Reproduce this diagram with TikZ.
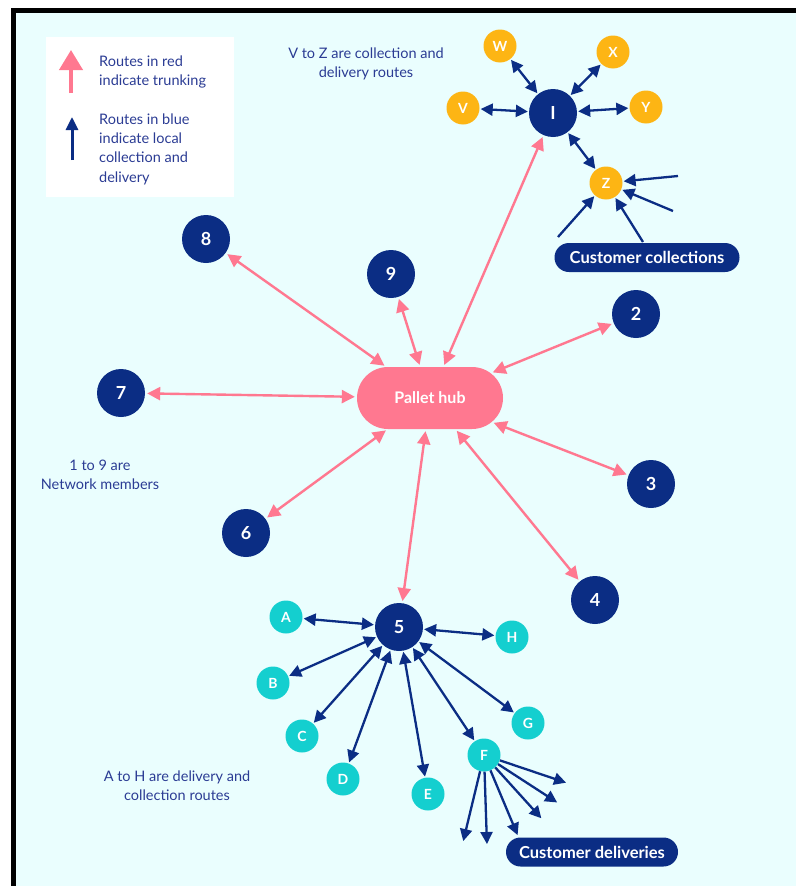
\documentclass[tikz,border=0pt]{standalone}
\usepackage{fontspec}
\setmainfont{Lato}
\usetikzlibrary{arrows.meta,shapes.misc}
\definecolor{bg}{HTML}{EAFEFE}
\definecolor{navy}{HTML}{0B2D84}
\definecolor{txt}{HTML}{2B3C94}
\definecolor{pinkr}{HTML}{FF7890}
\definecolor{tealc}{HTML}{14CFCF}
\definecolor{amber}{HTML}{FDB514}
\tikzset{
  member/.style={circle, fill=navy, minimum size=48pt, inner sep=0pt, text=white, font=\bfseries\fontsize{18}{18}\selectfont},
  routenode/.style={circle, fill=tealc, minimum size=33pt, inner sep=0pt, text=white, font=\bfseries\fontsize{14}{14}\selectfont},
  vznode/.style={circle, fill=amber, minimum size=33pt, inner sep=0pt, text=white, font=\bfseries\fontsize{14}{14}\selectfont},
  hubnode/.style={rounded rectangle, fill=pinkr, minimum width=146pt, minimum height=62pt, inner sep=0pt, text=white, font=\bfseries\fontsize{16}{16}\selectfont},
  custbox/.style={rounded rectangle, fill=navy, minimum height=29pt, inner sep=0pt, text=white, font=\bfseries\fontsize{16.5}{16.5}\selectfont},
  note/.style={text=txt, font=\fontsize{14.5}{19}\selectfont, align=center, inner sep=0pt},
  legtext/.style={text=txt, font=\fontsize{14.5}{19.3}\selectfont, align=left, inner sep=0pt, anchor=west},
  trunk/.style={draw=pinkr, line width=2.4pt, {Triangle[width=13pt,length=13pt]}-{Triangle[width=13pt,length=13pt]}, shorten >=2pt, shorten <=2pt},
  local/.style={draw=navy, line width=2.3pt, {Triangle[width=12pt,length=12pt]}-{Triangle[width=12pt,length=12pt]}, shorten >=1pt, shorten <=1pt},
  inward/.style={draw=navy, line width=2.3pt, -{Triangle[width=12pt,length=12pt]}, shorten >=1pt}
}
\begin{document}
\begin{tikzpicture}[x=1pt,y=-1pt]
\useasboundingbox (0,0) rectangle (796,886);
\fill[white] (0,0) rectangle (796,886);
\fill[black] (11,8) rectangle (796,886);
\fill[bg] (16,13) rectangle (796,886);

% legend
\fill[white] (46,37) rectangle (234,197);
\coordinate (lr1) at (71,93);
\coordinate (lr2) at (71,50);
\coordinate (lb1) at (72,160);
\coordinate (lb2) at (72,117);
\draw[pinkr, line width=4pt, -{Triangle[width=23pt,length=20pt]}] (lr1) -- (lr2);
\draw[navy, line width=3pt, -{Triangle[width=12pt,length=13pt]}] (lb1) -- (lb2);
\node[legtext] (lt1) at (99,72) {Routes in red\\indicate trunking};
\node[legtext] (lt2) at (99,149) {Routes in blue\\indicate local\\collection and\\delivery};

% notes
\node[note] (nvz) at (366,63.5) {V to Z are collection and\\delivery routes};
\node[note] (n19) at (100,475) {1 to 9 are\\Network members};
\node[note] (nah) at (177,786) {A to H are delivery and\\collection routes};

% hub and members
\node[hubnode] (hub) at (430,398) {Pallet hub};
\node[member] (m1) at (553,113) {I};
\node[member] (m2) at (636,314) {2};
\node[member] (m3) at (651,484) {3};
\node[member] (m4) at (595,600) {4};
\node[member] (m5) at (399,627) {5};
\node[member] (m6) at (246,533) {6};
\node[member] (m7) at (121,393) {7};
\node[member] (m8) at (206,239) {8};
\node[member] (m9) at (391,274) {9};

% V to Z
\node[vznode] (v) at (463,108) {V};
\node[vznode] (w) at (500,46) {W};
\node[vznode] (x) at (613,52) {X};
\node[vznode] (y) at (646,107) {Y};
\node[vznode] (z) at (606,183) {Z};

% A to H
\node[routenode] (a) at (286,617) {A};
\node[routenode] (b) at (273,683) {B};
\node[routenode] (c) at (302,736) {C};
\node[routenode] (d) at (343,779) {D};
\node[routenode] (e) at (428,794) {E};
\node[routenode] (f) at (484,755) {F};
\node[routenode] (g) at (528,723) {G};
\node[routenode] (h) at (512,637) {H};

% customer boxes
\node[custbox, minimum width=185pt] (cc) at (647,257.5) {Customer collections};
\node[custbox, minimum width=172pt] (cd) at (592,852) {Customer deliveries};

% trunking
\foreach \m in {m1,m2,m3,m4,m5,m6,m7,m8,m9} {\draw[trunk] (hub) -- (\m);}

% local V-Z
\foreach \n in {v,w,x,y,z} {\draw[local] (m1) -- (\n);}

% local A-H
\foreach \n in {a,b,c,d,e,f,g,h} {\draw[local] (m5) -- (\n);}

% customer collections into Z
\coordinate (zc1) at (678,176);
\coordinate (zc2) at (673,211);
\coordinate (zc3) at (558,237);
\coordinate (zc4) at (643,242);
\foreach \c in {zc1,zc2,zc3,zc4} {\draw[inward] (\c) -- (z);}

% deliveries from F
\coordinate (fd1) at (463,842);
\coordinate (fd2) at (487,845);
\coordinate (fd3) at (518,836);
\coordinate (fd4) at (542,819);
\coordinate (fd5) at (558,803);
\coordinate (fd6) at (567,783);
\foreach \c in {fd1,fd2,fd3,fd4,fd5,fd6} {\draw[inward] (f) -- (\c);}
\end{tikzpicture}
\end{document}
